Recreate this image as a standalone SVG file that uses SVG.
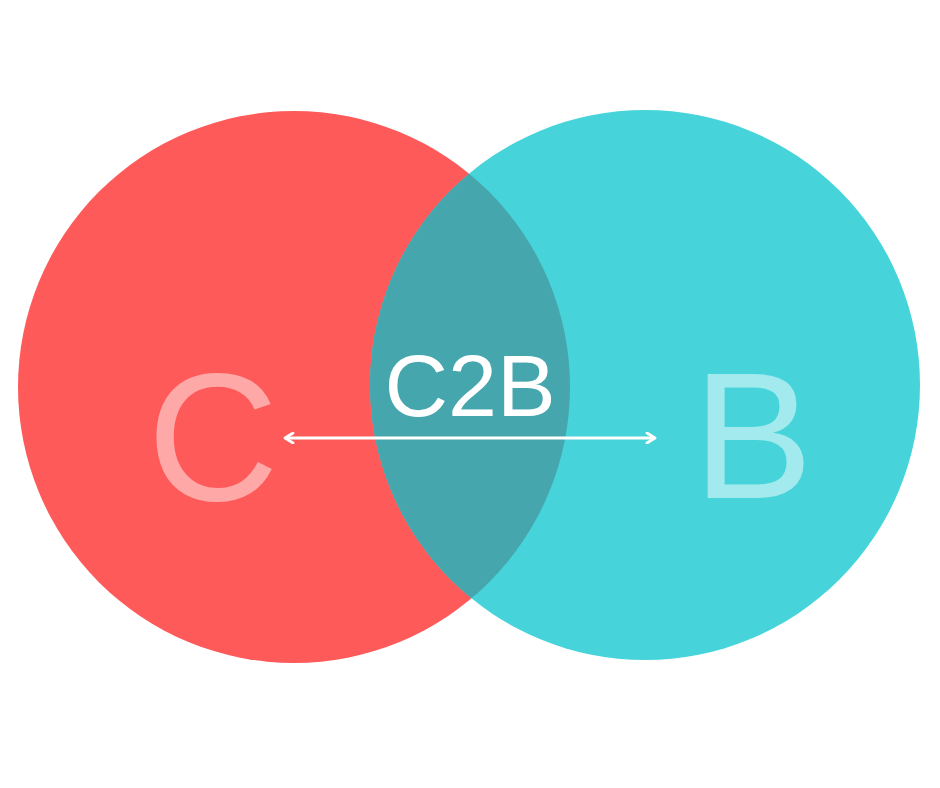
<svg xmlns="http://www.w3.org/2000/svg" width="940" height="788" viewBox="0 0 940 788">
<style>
.lbl{font-family:"Liberation Sans",Arial,sans-serif;text-anchor:middle}
</style>
<defs>
<clipPath id="clipRed"><circle cx="294" cy="387" r="276"/></clipPath>
<marker id="ah" viewBox="0 0 12 12" refX="10" refY="6" markerWidth="12" markerHeight="12" markerUnits="userSpaceOnUse" orient="auto-start-reverse">
<path d="M2,1 L10,6 L2,11" fill="none" stroke="#ffffff" stroke-width="2.8" stroke-linecap="round" stroke-linejoin="round"/>
</marker>
</defs>
<rect width="940" height="788" fill="#ffffff"/>
<g id="C">
<circle cx="294" cy="387" r="276" fill="#FF5A5A"/>
<text class="lbl" x="213" y="500" font-size="182" fill="#FFA8A8">C</text>
</g>
<g id="B">
<circle cx="645" cy="385" r="275" fill="#46D4DA"/>
<text class="lbl" x="753" y="498" font-size="180" fill="#A2EAED">B</text>
</g>
<g id="C2B">
<circle cx="645" cy="385" r="275" fill="#46A6AD" clip-path="url(#clipRed)"/>
<text class="lbl" x="470" y="416" font-size="88" fill="#ffffff">C2B</text>
</g>
<g id="connectors">
<line x1="285" y1="438" x2="655" y2="438" stroke="#ffffff" stroke-width="3.2" marker-start="url(#ah)" marker-end="url(#ah)"/>
</g>
</svg>
